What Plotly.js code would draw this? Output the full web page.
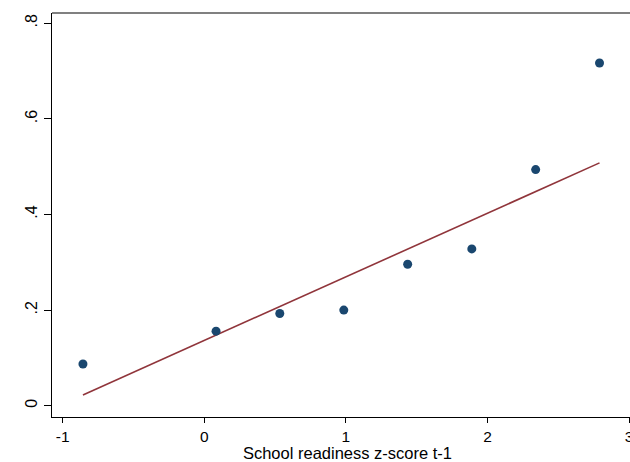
<!DOCTYPE html>
<html>
<head>
<meta charset="utf-8">
<script src="https://cdn.plot.ly/plotly-3.0.1.min.js"></script>
<style>
html,body{margin:0;padding:0;overflow:hidden;background:#fff;}
#chart{width:650px;height:462px;}
</style>
</head>
<body>
<div id="chart"></div>
<script>
// Binned scatter data
var readinessX = [-0.857, 0.083, 0.533, 0.985, 1.436, 1.889, 2.340, 2.791];
var outcomeY   = [0.0872, 0.156, 0.193, 0.200, 0.296, 0.328, 0.494, 0.717];
// Fitted line endpoints
var fitX = [-0.857, 2.791];
var fitY = [0.0224, 0.508];
// Tick labels
var xTickVals = [-1, 0, 1, 2, 3];
var xTickText = ["-1", "0", "1", "2", "3"];
var yTickVals = [0, 0.2, 0.4, 0.6, 0.8];
var yTickText = ["0", ".2", ".4", ".6", ".8"];

var traces = [
  {x: fitX, y: fitY, type: 'scatter', mode: 'lines',
   line: {color: '#90353b', width: 1.6}, hoverinfo: 'skip'},
  {x: readinessX, y: outcomeY, type: 'scatter', mode: 'markers',
   marker: {color: '#1a476f', size: 9}, hoverinfo: 'skip'}
];

var layout = {
  width: 650, height: 462,
  margin: {l: 52, r: 7, t: 13, b: 45},
  showlegend: false,
  paper_bgcolor: '#ffffff', plot_bgcolor: '#ffffff',
  font: {family: 'Liberation Sans, Arial, sans-serif', size: 16, color: '#000'},
  xaxis: {
    range: [-1.0756, 3.098],
    tickvals: xTickVals, ticktext: xTickText,
    ticks: 'outside', ticklen: 5, tickcolor: '#000', tickwidth: 1,
    showgrid: false, zeroline: false,
    showline: true, linecolor: '#000', linewidth: 1.3,
    tickfont: {size: 15.5},
    title: {text: 'School readiness z-score t-1', font: {size: 16.5}, standoff: 0}
  },
  yaxis: {
    range: [-0.0236, 0.8215],
    tickvals: yTickVals, ticktext: yTickText,
    tickangle: -90,
    ticks: 'outside', ticklen: 7, tickcolor: '#000', tickwidth: 1,
    showgrid: false, zeroline: false,
    showline: true, linecolor: '#000', linewidth: 1.3,
    tickfont: {size: 16}
  },
  shapes: [
    {type: 'line', xref: 'paper', yref: 'paper', x0: 0, x1: 1, y0: 1, y1: 1,
     line: {color: '#808080', width: 1.8}}
  ]
};

Plotly.newPlot('chart', traces, layout, {displayModeBar: false, staticPlot: true});
</script>
</body>
</html>
